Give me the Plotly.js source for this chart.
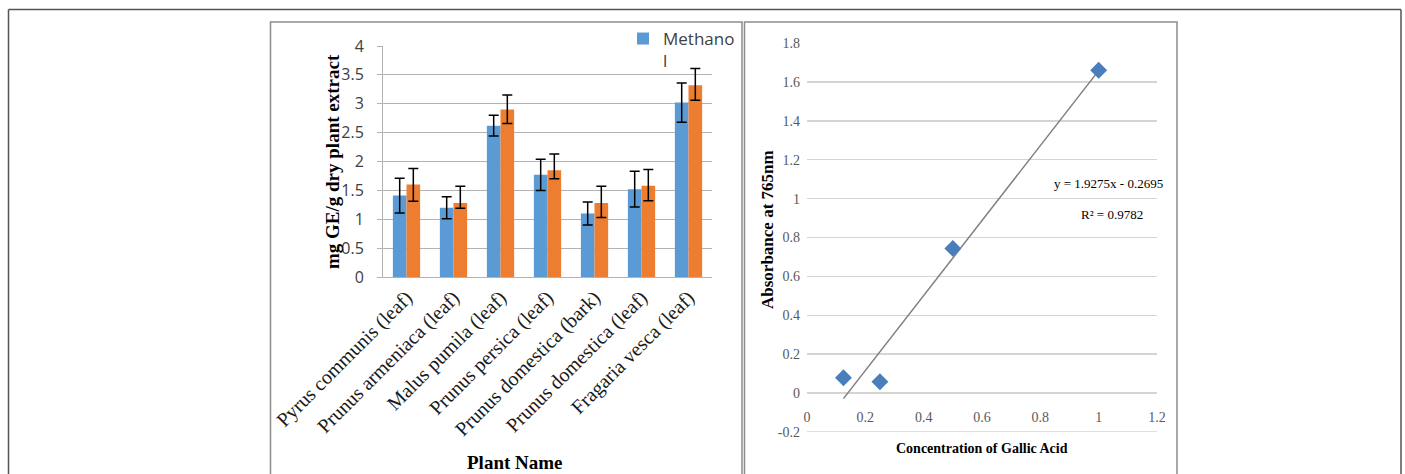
<!DOCTYPE html>
<html>
<head>
<meta charset="utf-8">
<script src="https://cdn.plot.ly/plotly-3.0.1.min.js"></script>
<style>
  html, body { margin: 0; padding: 0; background: #ffffff; }
  #chart { width: 1405px; height: 474px; }
</style>
</head>
<body>
<div id="chart"></div>
<script>
// ---------- data: left chart (bar chart) ----------
const plantNames = [
  'Pyrus communis (leaf)',
  'Prunus armeniaca (leaf)',
  'Malus pumila (leaf)',
  'Prunus persica (leaf)',
  'Prunus domestica (bark)',
  'Prunus domestica (leaf)',
  'Fragaria vesca (leaf)'
];
const methanolValues = [1.41, 1.20, 2.62, 1.77, 1.10, 1.52, 3.02];
const methanolErrors = [0.30, 0.19, 0.18, 0.27, 0.20, 0.31, 0.34];
const secondValues = [1.60, 1.28, 2.90, 1.85, 1.28, 1.58, 3.32];
const secondErrorsPlus = [0.28, 0.29, 0.25, 0.28, 0.29, 0.28, 0.29];
const secondErrorsMinus = [0.29, 0.09, 0.24, 0.15, 0.25, 0.26, 0.26];
const methanolLegendName = 'Methano<br>l';

// ---------- data: right chart (calibration curve) ----------
const gallicConcentration = [0.125, 0.25, 0.5, 1.0];
const absorbance765 = [0.079, 0.058, 0.744, 1.66];
const trendSlope = [1.9275];
const trendIntercept = [-0.2695];
const equationText = 'y = 1.9275x - 0.2695';
const rSquaredText = 'R² = 0.9782';
const rightYTickValues = [-0.2, 0, 0.2, 0.4, 0.6, 0.8, 1, 1.2, 1.4, 1.6, 1.8];
const rightYTickText = ['-0.2', '0', '0.2', '0.4', '0.6', '0.8', '1', '1.2', '1.4', '1.6', '1.8'];
const rightXTickValues = [0, 0.2, 0.4, 0.6, 0.8, 1, 1.2];
const rightXTickText = ['0', '0.2', '0.4', '0.6', '0.8', '1', '1.2'];
const rightYMin = [-0.2];

// ---------- helpers (pixel -> paper) ----------
const W = 1405, H = 474;
const px = x => x / W;
const py = y => 1 - y / H;

const serif = 'Liberation Serif, Times New Roman, serif';
const sans = 'Open Sans, Liberation Sans, sans-serif';

const trendX = [Math.min(...gallicConcentration), Math.max(...gallicConcentration)];
const trendY = trendX.map(x => trendSlope[0] * x + trendIntercept[0]);

const traces = [
  {
    type: 'bar', x: plantNames, y: methanolValues, name: methanolLegendName,
    xaxis: 'x', yaxis: 'y',
    marker: { color: '#5b9bd5' },
    error_y: { type: 'data', array: methanolErrors, visible: true, color: '#000000', thickness: 1.5, width: 5 },
    showlegend: true
  },
  {
    type: 'bar', x: plantNames, y: secondValues, name: '',
    xaxis: 'x', yaxis: 'y',
    marker: { color: '#ed7d31' },
    error_y: { type: 'data', symmetric: false, array: secondErrorsPlus, arrayminus: secondErrorsMinus,
               visible: true, color: '#000000', thickness: 1.5, width: 5 },
    showlegend: false
  },
  {
    type: 'scatter', mode: 'lines', x: trendX, y: trendY,
    xaxis: 'x2', yaxis: 'y2',
    line: { color: '#7f7f7f', width: 1.5 },
    showlegend: false
  },
  {
    type: 'scatter', mode: 'markers', x: gallicConcentration, y: absorbance765,
    xaxis: 'x2', yaxis: 'y2',
    marker: { symbol: 'diamond', size: 13, color: '#4a7ebb' },
    showlegend: false
  }
];

const layout = {
  width: W, height: H, autosize: false,
  margin: { l: 0, r: 0, t: 0, b: 0, pad: 0 },
  paper_bgcolor: '#ffffff', plot_bgcolor: 'rgba(0,0,0,0)',
  barmode: 'group', bargap: 0.42, bargroupgap: 0,
  showlegend: true,
  legend: {
    x: px(623), y: py(21), xanchor: 'left', yanchor: 'top',
    bgcolor: 'rgba(0,0,0,0)', borderwidth: 0,
    font: { family: sans, size: 17, color: '#404040' },
    valign: 'top', tracegroupgap: 0
  },
  xaxis: {
    domain: [px(383), px(712)], anchor: 'y',
    type: 'category', tickangle: -45,
    tickfont: { family: serif, size: 20, color: '#1a1a1a' },
    showgrid: false, showline: true, linecolor: '#b3b3b3', linewidth: 1,
    ticks: '', zeroline: false, fixedrange: true
  },
  yaxis: {
    domain: [py(277), py(46)], anchor: 'x',
    range: [0, 4], dtick: 0.5, tick0: 0,
    tickfont: { family: sans, size: 16, color: '#404040' },
    showgrid: true, gridcolor: '#b3b3b3', gridwidth: 1,
    showline: true, linecolor: '#b3b3b3', linewidth: 1,
    ticks: 'outside', ticklen: 5, tickcolor: '#b3b3b3',
    ticklabelstandoff: 10,
    zeroline: false, fixedrange: true
  },
  xaxis2: {
    domain: [px(807), px(1157)], anchor: 'free', position: py(407),
    range: [0, 1.2], tickvals: rightXTickValues, ticktext: rightXTickText,
    tickfont: { family: serif, size: 14, color: '#595959' },
    showgrid: false, showline: false, zeroline: false, ticks: '', fixedrange: true
  },
  yaxis2: {
    domain: [py(432), py(43)], anchor: 'x2',
    range: [-0.2, 1.8], tickvals: rightYTickValues, ticktext: rightYTickText,
    tickfont: { family: serif, size: 14, color: '#595959' },
    showgrid: true, gridcolor: '#d4d4d4', gridwidth: 1.5,
    showline: false, zeroline: false, ticks: '', ticklabelstandoff: 6, fixedrange: true
  },
  annotations: [
    { text: 'mg GE/g dry plant extract', textangle: -90, x: px(332), y: py(162),
      xref: 'paper', yref: 'paper', showarrow: false, xanchor: 'center', yanchor: 'middle',
      font: { family: serif, size: 19, color: '#000000', weight: 'bold' } },
    { text: 'Plant Name', x: px(515), y: py(462),
      xref: 'paper', yref: 'paper', showarrow: false, xanchor: 'center', yanchor: 'middle',
      font: { family: serif, size: 19, color: '#000000', weight: 'bold' } },
    { text: 'Absorbance at 765nm', textangle: -90, x: px(767), y: py(230),
      xref: 'paper', yref: 'paper', showarrow: false, xanchor: 'center', yanchor: 'middle',
      font: { family: serif, size: 17, color: '#000000', weight: 'bold' } },
    { text: 'Concentration of Gallic Acid', x: px(982), y: py(448),
      xref: 'paper', yref: 'paper', showarrow: false, xanchor: 'center', yanchor: 'middle',
      font: { family: serif, size: 14, color: '#000000', weight: 'bold' } },
    { text: equationText, x: px(1108), y: py(183),
      xref: 'paper', yref: 'paper', showarrow: false, xanchor: 'center', yanchor: 'middle',
      font: { family: serif, size: 13, color: '#000000' } },
    { text: rSquaredText, x: px(1112), y: py(214),
      xref: 'paper', yref: 'paper', showarrow: false, xanchor: 'center', yanchor: 'middle',
      font: { family: serif, size: 13, color: '#000000' } }
  ],
  shapes: [
    // bottom gridline of the right chart (at the axis minimum)
    { type: 'line', xref: 'x2 domain', yref: 'y2', x0: 0, x1: 1, y0: rightYMin[0], y1: rightYMin[0], line: { color: '#d4d4d4', width: 1.5 } },
    // outer frame (left, top, right)
    { type: 'line', xref: 'paper', yref: 'paper', x0: px(8.5), x1: px(8.5), y0: py(9.5), y1: py(480), line: { color: '#555555', width: 1.5 } },
    { type: 'line', xref: 'paper', yref: 'paper', x0: px(8.5), x1: px(1401), y0: py(9.5), y1: py(9.5), line: { color: '#555555', width: 1.5 } },
    { type: 'line', xref: 'paper', yref: 'paper', x0: px(1401), x1: px(1401), y0: py(9.5), y1: py(480), line: { color: '#555555', width: 1.5 } },
    // left chart panel
    { type: 'rect', xref: 'paper', yref: 'paper', x0: px(270.5), x1: px(742), y0: py(22), y1: py(490), line: { color: '#8c8c8c', width: 1.5 } },
    // right chart panel
    { type: 'rect', xref: 'paper', yref: 'paper', x0: px(744.5), x1: px(1177), y0: py(22), y1: py(490), line: { color: '#8c8c8c', width: 1.5 } }
  ]
};

Plotly.newPlot('chart', traces, layout, { displayModeBar: false, staticPlot: true });
</script>
</body>
</html>
